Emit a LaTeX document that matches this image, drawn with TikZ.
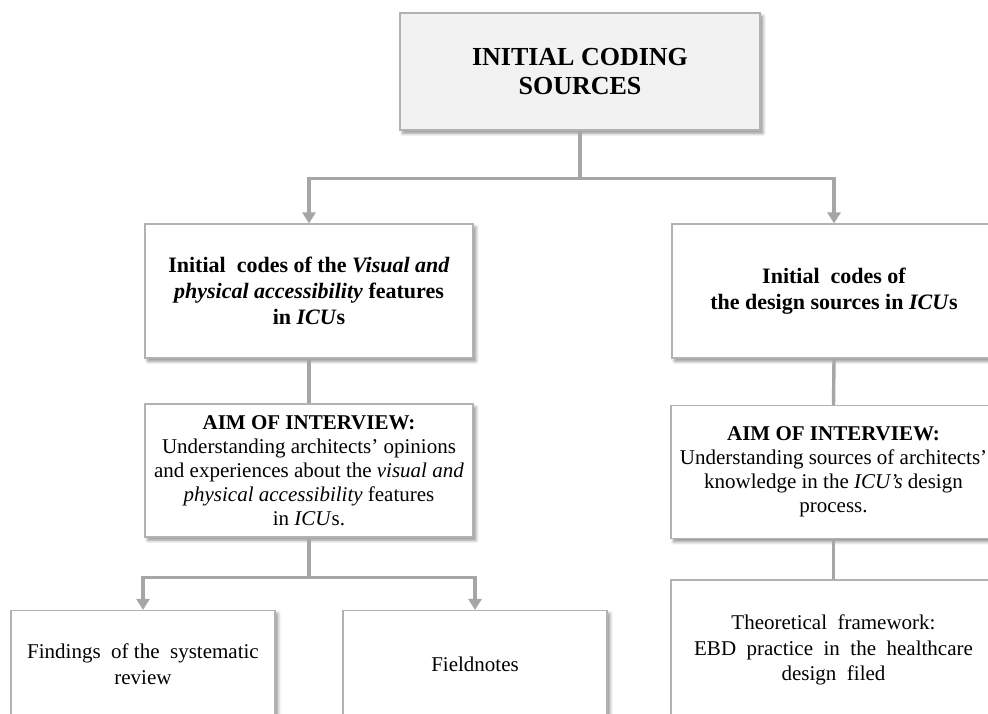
\documentclass[tikz,border=0pt]{standalone}
\usepackage{fontspec}
\setmainfont{Liberation Serif}
\usetikzlibrary{positioning}
\usetikzlibrary{arrows.meta,shadows.blur}

\tikzset{
 box/.style={draw=gray!60,line width=0.6pt,fill=white,align=center,inner sep=2pt,
  blur shadow={shadow xshift=1.4pt,shadow yshift=-1.6pt,shadow blur radius=1.6pt,shadow blur steps=6,shadow opacity=45}},
 titlebox/.style={box,fill=gray!10,font=\bfseries\fontsize{13}{14.5}\selectfont},
 headbox/.style={box,font=\bfseries\fontsize{11}{13}\selectfont},
 textbox/.style={box,font=\fontsize{10.5}{12}\selectfont},
 link/.style={draw=gray!70,line width=1.7pt},
 arrowlink/.style={link,-{Triangle[width=6.5pt,length=5.5pt]}}
}

\begin{document}
\begin{tikzpicture}[x=0.5pt,y=-0.5pt]
 \useasboundingbox (0,0) rectangle (988,713);
 \clip (0,0) rectangle (988,713);

 \node[titlebox,minimum width=180pt,minimum height=58.5pt] (src) at (580,71.5) {INITIAL CODING\\SOURCES};

 \node[headbox,minimum width=164pt,minimum height=67pt] (codesL) at (309,291)
  {Initial\ \ codes of the \textit{Visual and}\\\textit{physical accessibility} features\\in \textit{ICU}s};
 \node[headbox,minimum width=162pt,minimum height=67pt] (codesR) at (834,291)
  {Initial\ \ codes of\\the design sources in \textit{ICU}s};

 \node[textbox,minimum width=164pt,minimum height=66.5pt] (aimL) at (309,470.5)
  {\textbf{AIM OF INTERVIEW:}\\Understanding architects' opinions\\and experiences about the \textit{visual and}\\\textit{physical accessibility} features\\in \textit{ICU}s.};
 \node[textbox,minimum width=162.5pt,minimum height=66.5pt] (aimR) at (833.5,472)
  {\textbf{AIM OF INTERVIEW:}\\Understanding sources of architects'\\knowledge in the \textit{ICU's} design\\process.};

 \node[textbox,font=\fontsize{10.5}{13}\selectfont,minimum width=132pt,minimum height=53.5pt] (review) at (143,664)
  {Findings\ \ of the\ \ systematic\\review};
 \node[textbox,minimum width=132pt,minimum height=53.5pt] (notes) at (475,664) {Fieldnotes};
 \node[textbox,font=\fontsize{10.5}{12.75}\selectfont,minimum width=162.5pt,minimum height=70pt] (frame) at (833.5,650)
  {Theoretical\ \ framework:\\EBD\ \ practice\ \ in\ \ the\ \ healthcare\\design\ \ filed};

 \coordinate (fork) at ([yshift=-24pt]src.south);
 \draw[link] (src.south) -- (fork);
 \draw[arrowlink] (fork) -| (codesL.north);
 \draw[arrowlink] (fork) -| (codesR.north);

 \draw[link] (codesL.south) -- (aimL.north);
 \draw[link] (codesR.south) -- (aimR.north);

 \coordinate (forkL) at ([yshift=-20pt]aimL.south);
 \draw[link] (aimL.south) -- (forkL);
 \draw[arrowlink] (forkL) -| (review.north);
 \draw[arrowlink] (forkL) -| (notes.north);

 \draw[link] (aimR.south) -- (frame.north);
\end{tikzpicture}
\end{document}
